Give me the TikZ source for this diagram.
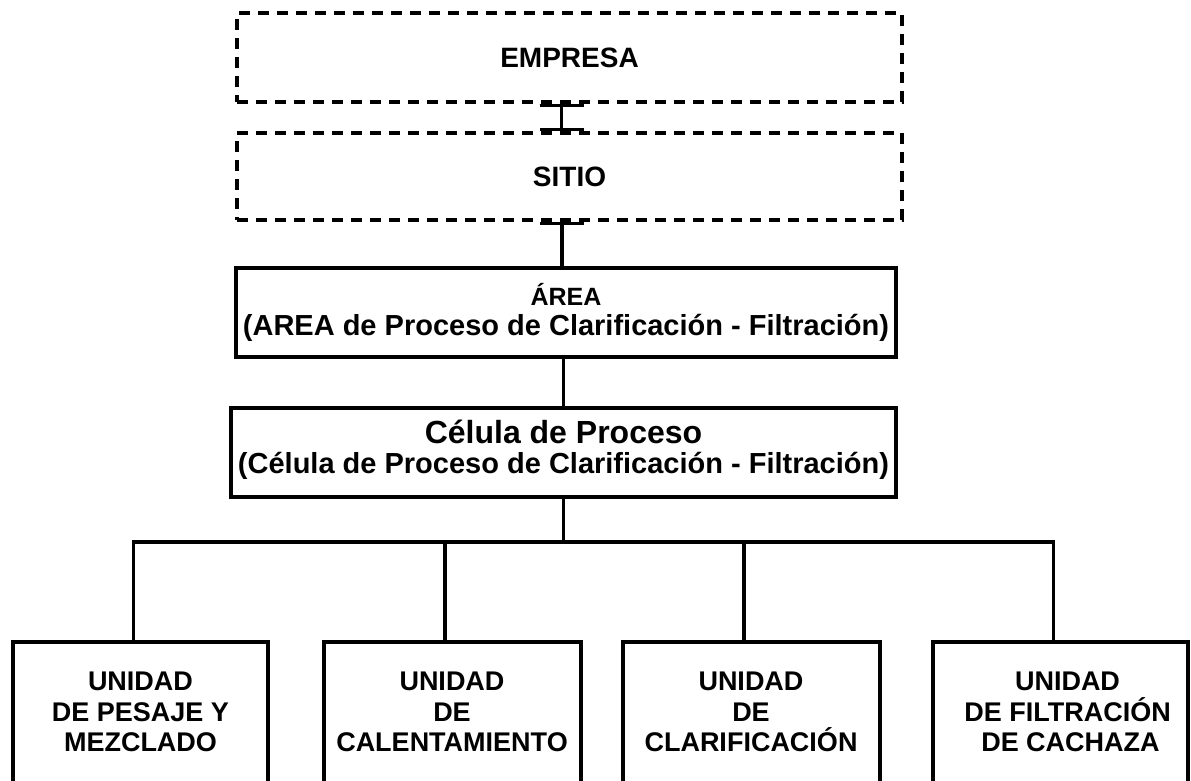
\documentclass[tikz,border=0pt]{standalone}
\usepackage{fontspec}
\setmainfont{Liberation Sans}
\usetikzlibrary{arrows.meta}

\begin{document}
\begin{tikzpicture}[x=1pt,y=-1pt,
    dashbox/.style={shape=rectangle,draw=black,line width=3.5pt,dash pattern=on 11pt off 8pt,minimum width=665pt,font=\fontsize{28}{30}\selectfont\bfseries},
    levelbox/.style={shape=rectangle,draw=black,line width=3.5pt,minimum height=89pt,align=center,inner sep=0pt,font=\fontsize{29}{30}\selectfont\bfseries},
    unitbox/.style={shape=rectangle,draw=black,line width=4pt,minimum width=255pt,minimum height=148pt,align=center,inner sep=0pt,text depth=8pt,font=\fontsize{27}{30.5}\selectfont\bfseries},
    link/.style={draw=black,line width=3.5pt}]
    \useasboundingbox (0,0) rectangle (1191,781);
    \clip (0,0) rectangle (1191,781);
    \node[dashbox,minimum height=89pt] (empresa) at (569.5,57.5) {EMPRESA};
    \node[dashbox,minimum height=87pt] (sitio) at (569.5,176.5) {SITIO};
    \node[levelbox,minimum width=660pt] (area) at (566,312.5) {{\fontsize{25}{30}\selectfont ÁREA}\\
        (AREA de Proceso de Clarificación - Filtración)};
    \node[levelbox,minimum width=665pt,text depth=11pt] (celula) at (563.5,452.5) {{\fontsize{32}{30}\selectfont Célula de Proceso}\\
        (Célula de Proceso de Clarificación - Filtración)};
    \node[unitbox] (u1) at (140.5,716) {UNIDAD\\DE PESAJE Y\\MEZCLADO};
    \node[unitbox,minimum width=257pt] (u2) at (452,716) {UNIDAD\\DE\\CALENTAMIENTO};
    \node[unitbox,minimum width=257pt] (u3) at (751,716) {UNIDAD\\DE\\CLARIFICACIÓN};
    \node[unitbox] (u4) at (1060.5,716) {\hspace*{14pt}UNIDAD\\\hspace*{14pt}DE FILTRACIÓN\\\hspace*{20pt}DE CACHAZA};
    \coordinate (bus) at (563.5,542);
    \path [link,{Bar[width=44pt]}-{Bar[width=44pt]}] ([xshift=-8pt]empresa.south) edge ([xshift=-8pt]sitio.north);
    \path [link] ([xshift=-4pt]area.north |- sitio.south) edge[{Bar[width=44pt]}-] ([xshift=-4pt]area.north);
    \path [link] (celula.north |- area.south) edge (celula.north);
    \path [link] (celula.south) edge (bus);
    \foreach \u in {u1,u2,u3,u4}
        \draw [link] (bus) -| ([xshift=-7pt]\u.north);
\end{tikzpicture}
\end{document}
